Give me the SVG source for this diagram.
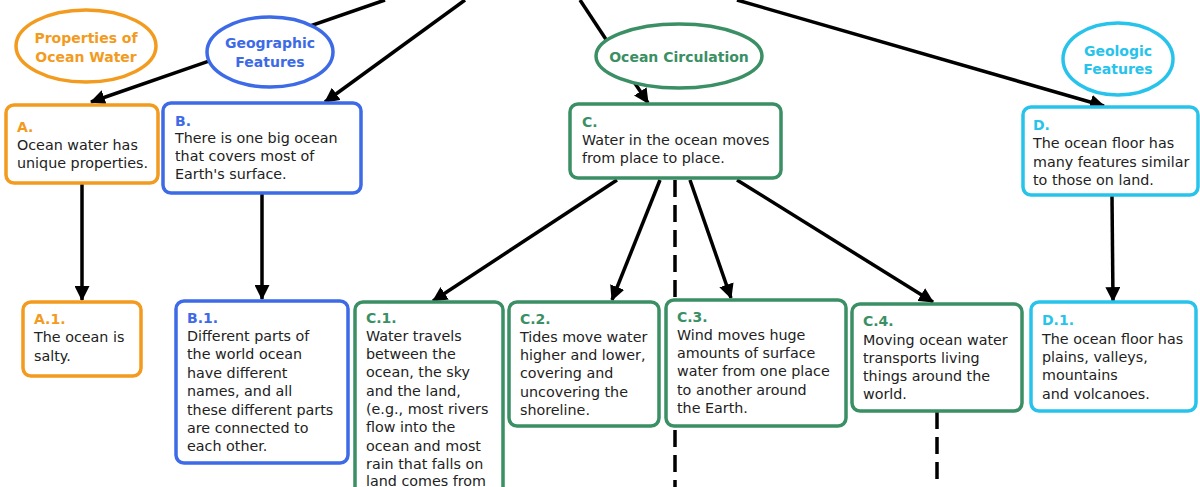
<svg xmlns="http://www.w3.org/2000/svg" width="1200" height="487" viewBox="0 0 1200 487">
<style>
text{font-family:"DejaVu Sans","Verdana",sans-serif;font-size:14.3px;fill:#222}
.h{font-weight:bold;font-size:14px}
.o{stroke:#F29B1E}.b{stroke:#3D6AE6}.g{stroke:#3A8F64}.c{stroke:#27C3EB}
.to{fill:#F29B1E}.tb{fill:#3D6AE6}.tg{fill:#3A8F64}.tc{fill:#27C3EB}
rect,ellipse{fill:#fff;stroke-width:3.5}
.ln{stroke:#000;stroke-width:3.5;fill:none}
.ar{marker-end:url(#ah)}
.ds{stroke-dasharray:17 8}
.ct{text-anchor:middle}
</style>
<defs>
<marker id="ah" viewBox="0 0 14 14" refX="13" refY="7" markerWidth="15" markerHeight="15" orient="auto" markerUnits="userSpaceOnUse"><path d="M0,0 L14,7 L0,14 z" fill="#000"/></marker>
</defs>
<g id="connectors">
<line class="ln ar" x1="385" y1="0" x2="91" y2="102"/>
<line class="ln ar" x1="465" y1="0" x2="325" y2="102"/>
<line class="ln ar" x1="580" y1="0" x2="648" y2="103"/>
<line class="ln ar" x1="737" y1="0" x2="1104" y2="106"/>
<line class="ln ar" x1="82" y1="183" x2="82" y2="300"/>
<line class="ln ar" x1="262" y1="193" x2="262" y2="299"/>
<line class="ln ar" x1="1112" y1="196" x2="1113" y2="301"/>
<line class="ln ar" x1="617" y1="180" x2="433" y2="301"/>
<line class="ln ar" x1="660" y1="180" x2="612" y2="300"/>
<line class="ln ar" x1="690" y1="180" x2="731" y2="298"/>
<line class="ln ar" x1="737" y1="180" x2="933" y2="302"/>
<line class="ln ds" x1="675" y1="180" x2="675" y2="490"/>
<line class="ln ds" x1="937" y1="412" x2="937" y2="490"/>
</g>
<g id="props">
<ellipse class="o" cx="86" cy="46" rx="70" ry="36"/>
<text class="h to ct" x="86" y="43">Properties of</text>
<text class="h to ct" x="86" y="62">Ocean Water</text>
</g>
<g id="geo">
<ellipse class="b" cx="270" cy="52" rx="63" ry="35"/>
<text class="h tb ct" x="270" y="48">Geographic</text>
<text class="h tb ct" x="270" y="67">Features</text>
</g>
<g id="circ">
<ellipse class="g" cx="679" cy="56" rx="83" ry="32"/>
<text class="h tg ct" x="679" y="62">Ocean Circulation</text>
</g>
<g id="geol">
<ellipse class="c" cx="1118" cy="59" rx="55" ry="36"/>
<text class="h tc ct" x="1118" y="56">Geologic</text>
<text class="h tc ct" x="1118" y="74">Features</text>
</g>
<g id="A">
<rect class="o" x="6" y="105" width="152" height="78" rx="8"/>
<text class="h to" x="17" y="132">A.</text>
<text x="17" y="150">Ocean water has</text>
<text x="17" y="168">unique properties.</text>
</g>
<g id="B">
<rect class="b" x="163" y="103" width="198" height="90" rx="8"/>
<text class="h tb" x="175" y="126">B.</text>
<text x="175" y="143">There is one big ocean</text>
<text x="175" y="161">that covers most of</text>
<text x="175" y="179">Earth's surface.</text>
</g>
<g id="C">
<rect class="g" x="570" y="104" width="211" height="74" rx="8"/>
<text class="h tg" x="582" y="127">C.</text>
<text x="582" y="145">Water in the ocean moves</text>
<text x="582" y="163">from place to place.</text>
</g>
<g id="D">
<rect class="c" x="1023" y="107" width="175" height="88" rx="8"/>
<text class="h tc" x="1033" y="130">D.</text>
<text x="1033" y="148">The ocean floor has</text>
<text x="1033" y="167">many features similar</text>
<text x="1033" y="185">to those on land.</text>
</g>
<g id="A1">
<rect class="o" x="23" y="302" width="118" height="74" rx="8"/>
<text class="h to" x="34" y="324">A.1.</text>
<text x="34" y="342">The ocean is</text>
<text x="34" y="361">salty.</text>
</g>
<g id="B1">
<rect class="b" x="176" y="301" width="172" height="162" rx="8"/>
<text class="h tb" x="187" y="323">B.1.</text>
<text x="187" y="341">Different parts of</text>
<text x="187" y="359">the world ocean</text>
<text x="187" y="378">have different</text>
<text x="187" y="396">names, and all</text>
<text x="187" y="415">these different parts</text>
<text x="187" y="433">are connected to</text>
<text x="187" y="451">each other.</text>
</g>
<g id="C1">
<rect class="g" x="355" y="302" width="148" height="220" rx="8"/>
<text class="h tg" x="366" y="323">C.1.</text>
<text x="366" y="341">Water travels</text>
<text x="366" y="359">between the</text>
<text x="366" y="377">ocean, the sky</text>
<text x="366" y="396">and the land,</text>
<text x="366" y="414">(e.g., most rivers</text>
<text x="366" y="432">flow into the</text>
<text x="366" y="451">ocean and most</text>
<text x="366" y="469">rain that falls on</text>
<text x="366" y="486">land comes from</text>
</g>
<g id="C2">
<rect class="g" x="509" y="302" width="150" height="124" rx="8"/>
<text class="h tg" x="520" y="324">C.2.</text>
<text x="520" y="342">Tides move water</text>
<text x="520" y="360">higher and lower,</text>
<text x="520" y="378">covering and</text>
<text x="520" y="397">uncovering the</text>
<text x="520" y="415">shoreline.</text>
</g>
<g id="C3">
<rect class="g" x="666" y="300" width="180" height="126" rx="8"/>
<text class="h tg" x="677" y="322">C.3.</text>
<text x="677" y="340">Wind moves huge</text>
<text x="677" y="358">amounts of surface</text>
<text x="677" y="376">water from one place</text>
<text x="677" y="395">to another around</text>
<text x="677" y="413">the Earth.</text>
</g>
<g id="C4">
<rect class="g" x="852" y="304" width="170" height="107" rx="8"/>
<text class="h tg" x="863" y="326">C.4.</text>
<text x="863" y="345">Moving ocean water</text>
<text x="863" y="363">transports living</text>
<text x="863" y="381">things around the</text>
<text x="863" y="399">world.</text>
</g>
<g id="D1">
<rect class="c" x="1031" y="302" width="165" height="109" rx="8"/>
<text class="h tc" x="1042" y="325">D.1.</text>
<text x="1042" y="344">The ocean floor has</text>
<text x="1042" y="362">plains, valleys,</text>
<text x="1042" y="380">mountains</text>
<text x="1042" y="399">and volcanoes.</text>
</g>
</svg>
